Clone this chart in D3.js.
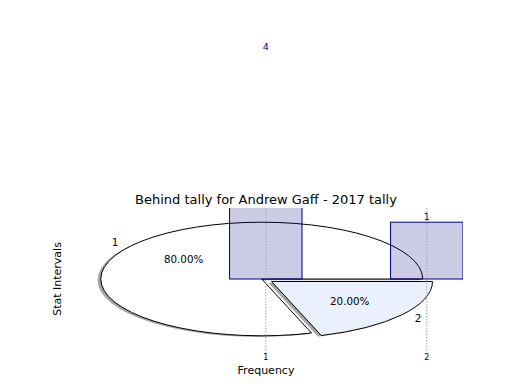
<!DOCTYPE html>
<html><head><meta charset="utf-8">
<script src="https://cdn.jsdelivr.net/npm/d3@7/dist/d3.min.js"></script>
<style>body{margin:0;background:#fff}svg{display:block;font-family:"DejaVu Sans",sans-serif}</style>
</head><body><svg id="c" width="520" height="390"></svg>
<script>
const title = "Behind tally for Andrew Gaff - 2017 tally";
const barCategories = [1, 2];
const barValues = [4, 1];
const pieLabels = ["1", "2"];
const pieValues = [80, 20];
const pieExplode = [0, 0.075];
const pieColors = ["#ffffff", "#eaf0fc"];
const xTicks = [1, 2];
const xLabel = "Frequency";
const yLabel = "Stat Intervals";

const svg = d3.select("#c");
const x = d3.scaleLinear().domain([-0.275, 2.225]).range([60.5, 463]);
const y = d3.scaleLinear().domain([-1.25, 1.25]).range([350, 208]);
const pieCenter = [0.975, 0];
const barWidth = 0.45;

svg.append("defs").append("clipPath").attr("id","ax")
  .append("rect").attr("x", x(-0.275)).attr("y", y(1.25))
  .attr("width", x(2.225)-x(-0.275)).attr("height", y(-1.25)-y(1.25));

// pie
const rx = x(1) - x(0), ry = y(0) - y(1);
const pie = d3.pie().sort(null).startAngle(Math.PI/2).endAngle(Math.PI/2 - 2*Math.PI);
const arcs = pie(pieValues);
const arc = d3.arc().innerRadius(0).outerRadius(1);
const pg = svg.append("g");
arcs.forEach((a, i) => {
  const mid = Math.PI/2 - (a.startAngle + a.endAngle)/2;
  const cxd = pieCenter[0] + pieExplode[i]*Math.cos(mid);
  const cyd = pieCenter[1] + pieExplode[i]*Math.sin(mid);
  pg.append("path").attr("d", arc(a))
    .attr("transform", `translate(${x(cxd-0.02)},${y(cyd-0.02)}) scale(${rx},${ry})`)
    .attr("fill", "#4d4d4d").attr("fill-opacity", 0.5);
});
arcs.forEach((a, i) => {
  const mid = Math.PI/2 - (a.startAngle + a.endAngle)/2;
  const cxd = pieCenter[0] + pieExplode[i]*Math.cos(mid);
  const cyd = pieCenter[1] + pieExplode[i]*Math.sin(mid);
  pg.append("path").attr("d", arc(a))
    .attr("transform", `translate(${x(cxd)},${y(cyd)}) scale(${rx},${ry})`)
    .attr("fill", pieColors[i]).attr("stroke", "#000").attr("stroke-width", 1)
    .attr("vector-effect", "non-scaling-stroke");
  const lx = cxd + 1.1*Math.cos(mid), ly = cyd + 1.1*Math.sin(mid);
  pg.append("text").attr("x", x(lx)).attr("y", y(ly)).attr("dy", "0.35em")
    .attr("text-anchor", Math.cos(mid) < 0 ? "end" : "start")
    .attr("font-size", 10.5).attr("fill", "#000").text(pieLabels[i]);
  const px = cxd + 0.6*Math.cos(mid), py = cyd + 0.6*Math.sin(mid);
  pg.append("text").attr("x", x(px)).attr("y", y(py)).attr("dy", "0.35em")
    .attr("text-anchor", "middle").attr("font-size", 10.3).attr("fill", "#000")
    .text(d3.format(".2f")(pieValues[i]/d3.sum(pieValues)*100) + "%");
});

// bars
const bg = svg.append("g").attr("clip-path", "url(#ax)");
barCategories.forEach((c, i) => {
  bg.append("rect").attr("x", x(c - barWidth/2)).attr("y", y(barValues[i]))
    .attr("width", x(c + barWidth/2) - x(c - barWidth/2))
    .attr("height", y(0) - y(barValues[i]))
    .attr("fill", "#000080").attr("fill-opacity", 0.2)
    .attr("stroke", "#000080").attr("stroke-width", 1);
});
barCategories.forEach((c, i) => {
  svg.append("text").attr("x", x(c)).attr("y", y(barValues[i]) - 2)
    .attr("text-anchor", "middle").attr("font-size", 9.5).attr("fill", "#000080")
    .text(barValues[i]);
});

// grid + ticks
xTicks.forEach(t => {
  svg.append("line").attr("x1", x(t)).attr("x2", x(t)).attr("y1", y(1.25)).attr("y2", y(-1.25))
    .attr("stroke", "#aaaaaa").attr("stroke-width", 1.1).attr("stroke-dasharray", "1.5,1.5");
  svg.append("text").attr("x", x(t)).attr("y", y(-1.25) + 9.5).attr("text-anchor", "middle")
    .attr("font-size", 8).attr("fill", "#000").text(t);
});

svg.append("text").attr("x", 266).attr("y", 374).attr("text-anchor", "middle")
  .attr("font-size", 11).text(xLabel);
svg.append("text").attr("transform", `translate(61,${y(0)}) rotate(-90)`)
  .attr("text-anchor", "middle").attr("font-size", 11).text(yLabel);
svg.append("text").attr("x", 266).attr("y", 204).attr("text-anchor", "middle")
  .attr("font-size", 13).text(title);
</script></body></html>
